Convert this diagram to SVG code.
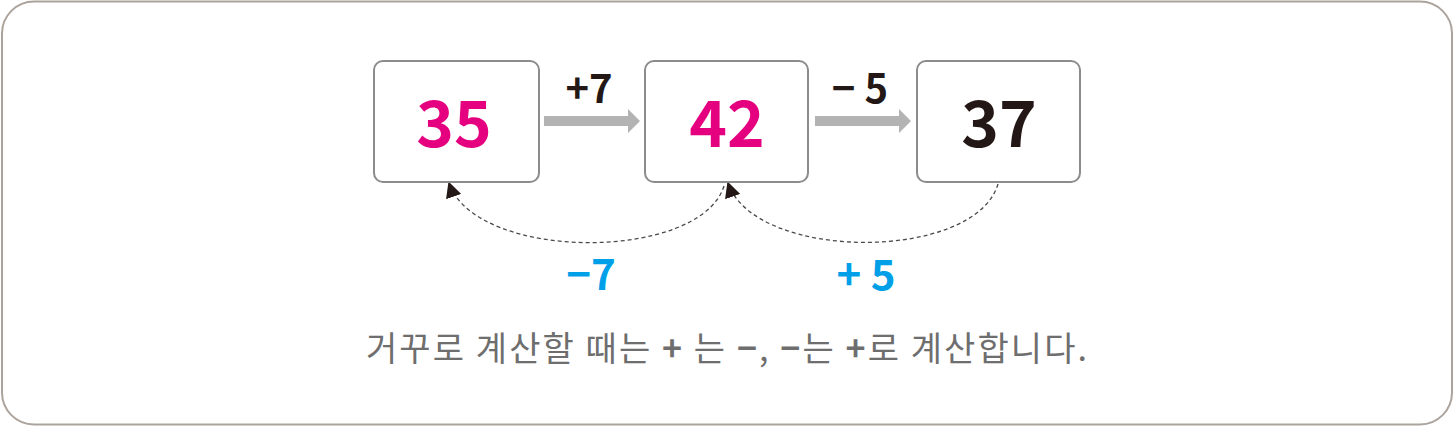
<svg xmlns="http://www.w3.org/2000/svg" width="1454" height="426" viewBox="0 0 1454 426">
<style>
.box{fill:#fff;stroke:#8c8c8c;stroke-width:2}
.num{font-family:"Noto Sans CJK KR","Noto Sans",sans-serif;font-size:64px;font-weight:600;text-anchor:middle}
.op{font-family:"Noto Sans CJK KR","Noto Sans",sans-serif;font-size:40px;font-weight:700;text-anchor:middle;fill:#231815}
.bop{font-family:"Noto Sans CJK KR","Noto Sans",sans-serif;font-size:42px;font-weight:700;text-anchor:middle;fill:#00a0e9}
.dash{fill:none;stroke:#4a4a4a;stroke-width:1.3;stroke-dasharray:4 3}
.garrow{fill:#b3b3b3}
</style>
<defs>
<marker id="ah" viewBox="0 0 10 10" refX="9" refY="5" markerWidth="16" markerHeight="16" markerUnits="userSpaceOnUse" orient="auto">
<path d="M0 0 L10 5 L0 10 Z" fill="#231815"/>
</marker>
</defs>
<rect x="2" y="1.5" width="1450" height="423" rx="32" fill="#fff" stroke="#aba39c" stroke-width="2"/>
<g id="connectors">
<path class="garrow" d="M544 116 L628 116 L628 109 L640 121 L628 133 L628 126 L544 126 Z"/>
<path class="garrow" d="M815 116 L899 116 L899 109 L911 121 L899 133 L899 126 L815 126 Z"/>
<text class="op" x="589" y="103">+7</text>
<text class="op" x="860" y="103">− 5</text>
<path class="dash" d="M724 186 C700 262, 476 262, 449 183" marker-end="url(#ah)"/>
<path class="dash" d="M998 184 C975 262, 755 262, 728 183" marker-end="url(#ah)"/>
<text class="bop" x="591" y="290">−7</text>
<text class="bop" x="866" y="290">+ 5</text>
</g>
<g id="n35">
<rect class="box" x="374" y="61" width="165" height="121" rx="9"/>
<text class="num" x="454" y="147" fill="#e4007f">35</text>
</g>
<g id="n42">
<rect class="box" x="645" y="61" width="163" height="121" rx="9"/>
<text class="num" x="727" y="147" fill="#e4007f">42</text>
</g>
<g id="n37">
<rect class="box" x="917" y="61" width="163" height="121" rx="9"/>
<text class="num" x="999" y="147" fill="#231815">37</text>
</g>
<g id="caption">
<text x="366" y="361" textLength="721" lengthAdjust="spacing" font-family="'Noto Sans CJK KR','Noto Sans',sans-serif" font-size="34" fill="#6e6e6e">거꾸로 계산할 때는 <tspan font-weight="700">+</tspan> 는 <tspan font-weight="700">−</tspan>, <tspan font-weight="700">−</tspan>는 <tspan font-weight="700">+</tspan>로 계산합니다.</text>
</g>
</svg>
